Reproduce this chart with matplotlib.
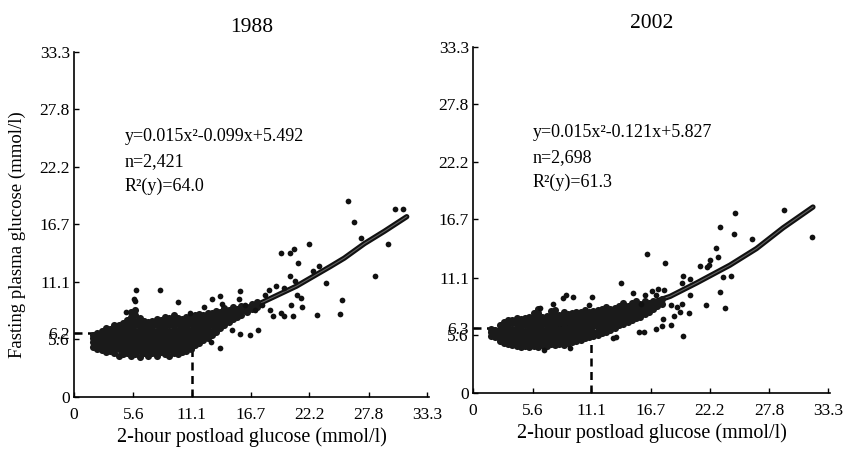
import matplotlib
matplotlib.use('Agg')
import matplotlib.pyplot as plt

plt.rcParams['font.family'] = ['Liberation Serif', 'DejaVu Serif']

# ---------------- data (mmol/l) ----------------
xticks = [0, 5.6, 11.1, 16.7, 22.2, 27.8, 33.3]
yticks88 = [0, 5.6, 6.2, 11.1, 16.7, 22.2, 27.8, 33.3]
yticks02 = [0, 5.6, 6.3, 11.1, 16.7, 22.2, 27.8, 33.3]

# dense cloud, 1988: x column -> fasting values
blob88 = {
    1.8: [4.8, 5.3, 5.7, 6.0],
    2.2: [4.6, 5.1, 5.4, 5.9, 6.2],
    2.6: [4.5, 4.8, 5.3, 5.7, 6.0, 6.4],
    3.0: [4.3, 4.8, 5.2, 5.5, 6.0, 6.3, 6.7],
    3.4: [4.4, 4.7, 5.0, 5.5, 5.9, 6.2, 6.6],
    3.8: [4.2, 4.5, 5.0, 5.4, 5.7, 6.2, 6.5, 6.9],
    4.2: [4.0, 4.6, 4.9, 5.3, 5.8, 6.1, 6.6, 6.9],
    4.6: [4.1, 4.4, 4.9, 5.2, 5.6, 6.0, 6.5, 6.8, 7.1],
    5.0: [4.2, 4.6, 5.1, 5.4, 5.7, 6.2, 6.6, 6.9, 7.4],
    5.4: [4.0, 4.5, 4.8, 5.3, 5.6, 6.0, 6.3, 6.8, 7.2, 7.7, 8.2],
    5.8: [4.1, 4.4, 4.9, 5.2, 5.7, 6.1, 6.4, 6.9, 7.3, 7.9, 8.4],
    6.2: [3.9, 4.4, 4.8, 5.3, 5.6, 6.0, 6.5, 6.8, 7.2, 7.6],
    6.6: [4.2, 4.5, 5.0, 5.4, 5.9, 6.2, 6.7, 7.0, 7.3],
    7.0: [4.0, 4.4, 4.9, 5.2, 5.6, 6.1, 6.4, 6.8, 7.2],
    7.4: [4.2, 4.5, 4.9, 5.4, 5.7, 6.1, 6.6, 6.9, 7.3],
    7.8: [4.0, 4.4, 4.7, 5.2, 5.6, 6.0, 6.4, 6.9, 7.2, 7.5],
    8.2: [4.3, 4.6, 5.0, 5.5, 5.8, 6.2, 6.7, 7.0, 7.4],
    8.6: [4.1, 4.5, 5.0, 5.3, 5.7, 6.2, 6.5, 6.9, 7.3, 7.7],
    9.0: [4.0, 4.5, 4.8, 5.2, 5.7, 6.0, 6.4, 6.9, 7.2, 7.6],
    9.4: [4.2, 4.6, 5.1, 5.4, 5.8, 6.3, 6.6, 7.0, 7.5, 7.9],
    9.8: [4.1, 4.4, 4.9, 5.3, 5.8, 6.1, 6.5, 7.0, 7.3, 7.6],
    10.2: [4.3, 4.8, 5.1, 5.5, 6.0, 6.3, 6.7, 7.1, 7.5],
    10.6: [4.4, 4.8, 5.3, 5.6, 6.0, 6.5, 6.8, 7.2, 7.7],
    11.0: [4.6, 4.9, 5.3, 5.8, 6.1, 6.5, 7.0, 7.3, 7.8],
    11.4: [5.0, 5.5, 5.8, 6.2, 6.7, 7.0, 7.4, 7.9],
    11.8: [5.2, 5.6, 6.1, 6.4, 6.8, 7.3, 7.6, 8.0],
    12.2: [5.5, 5.8, 6.2, 6.7, 7.0, 7.4, 7.9],
    12.6: [5.7, 6.2, 6.5, 6.9, 7.4, 7.7, 8.1],
    13.0: [6.0, 6.4, 6.9, 7.2, 7.6, 8.1],
    13.4: [6.3, 6.8, 7.1, 7.5, 8.0, 8.3],
    13.8: [6.7, 7.0, 7.5, 7.8, 8.2],
    14.2: [6.9, 7.4, 7.7, 8.1, 8.6],
    14.6: [7.2, 7.6, 8.1, 8.4],
    15.0: [7.5, 7.8, 8.3, 8.7],
    15.4: [7.7, 8.1, 8.5],
    15.8: [7.9, 8.4, 8.8],
    16.3: [8.2, 8.7],
    16.8: [8.5, 9.0],
    17.3: [8.7, 9.2],
}
# scattered points, 1988
spread88 = [(5.85, 10.3), (8.1, 10.3), (5.7, 9.5), (5.8, 9.3), (9.8, 9.2),
            (4.9, 8.2), (13.0, 9.5), (13.8, 9.7), (14.0, 9.0), (12.3, 8.7),
            (10.9, 8.1), (15.7, 10.2), (15.6, 9.5), (16.1, 8.9), (13.8, 4.7),
            (14.9, 6.5), (15.7, 6.1), (12.9, 5.3), (16.6, 6.0), (17.4, 6.5),
            (17.1, 8.4), (17.7, 8.9), (18.0, 9.8), (18.4, 10.3), (19.1, 10.7),
            (19.8, 10.5), (18.5, 8.4), (18.8, 7.8), (19.5, 8.1), (19.85, 7.8),
            (20.7, 7.8), (20.5, 8.9), (21.5, 8.7), (21.0, 9.85), (21.4, 9.6),
            (20.4, 11.7), (20.9, 11.2), (19.5, 13.9), (20.4, 13.9), (20.8, 14.3),
            (21.1, 12.9), (22.2, 14.8), (22.6, 12.2), (23.1, 12.6), (23.8, 11.0),
            (22.9, 7.9), (25.1, 8.0), (25.3, 9.4), (25.9, 18.9), (26.4, 16.9),
            (27.1, 15.3), (28.4, 11.7), (29.6, 14.8), (30.3, 18.1), (31.0, 18.1)]
curve88_x = [2, 5, 8, 11, 13, 14.7, 17.9, 21.0, 24.2, 25.5, 27.4, 29.3, 31.4]
curve88_y = [5.35, 5.4, 5.8, 6.4, 7.0, 7.6, 9.2, 10.7, 12.6, 13.4, 14.8, 16.0, 17.4]
cut88 = (11.1, 6.2)

# dense cloud, 2002
blob02 = {
    1.7: [5.5, 5.9, 6.2],
    2.1: [5.4, 5.8, 6.1],
    2.5: [5.0, 5.3, 5.7, 6.1, 6.5],
    2.9: [4.8, 5.2, 5.6, 6.0, 6.3, 6.8],
    3.3: [4.7, 5.1, 5.4, 5.9, 6.2, 6.6, 7.0],
    3.7: [4.6, 5.0, 5.5, 5.8, 6.2, 6.7, 7.0],
    4.1: [4.5, 4.9, 5.3, 5.7, 6.1, 6.5, 6.9, 7.2],
    4.5: [4.4, 4.8, 5.3, 5.6, 6.0, 6.4, 6.9, 7.1],
    4.9: [4.5, 4.8, 5.2, 5.7, 6.0, 6.5, 6.8, 7.2],
    5.3: [4.4, 4.9, 5.2, 5.6, 6.1, 6.4, 6.8, 7.3],
    5.7: [4.5, 4.8, 5.3, 5.7, 6.0, 6.4, 6.9, 7.2, 7.7],
    6.1: [4.4, 4.9, 5.2, 5.6, 6.1, 6.5, 6.8, 7.3, 7.7, 8.1],
    6.5: [4.6, 4.9, 5.4, 5.7, 6.1, 6.6, 6.9, 7.3],
    6.9: [4.5, 5.0, 5.3, 5.8, 6.2, 6.5, 7.0, 7.4],
    7.3: [4.7, 5.0, 5.4, 5.9, 6.2, 6.6, 7.1, 7.4, 7.9],
    7.7: [4.6, 5.1, 5.5, 5.8, 6.3, 6.7, 7.0, 7.5, 8.0],
    8.1: [4.7, 5.0, 5.5, 5.9, 6.2, 6.7, 7.1, 7.5],
    8.5: [4.6, 5.1, 5.4, 5.8, 6.3, 6.6, 7.0, 7.5, 7.8],
    8.9: [4.8, 5.1, 5.6, 6.0, 6.3, 6.8, 7.2, 7.6],
    9.3: [4.9, 5.3, 5.6, 6.1, 6.5, 6.8, 7.3, 7.7],
    9.7: [5.0, 5.4, 5.8, 6.2, 6.5, 7.0, 7.3, 7.8],
    10.1: [5.1, 5.5, 5.9, 6.3, 6.7, 7.1, 7.5, 7.8],
    10.5: [5.3, 5.6, 6.1, 6.4, 6.8, 7.3, 7.6, 8.0],
    10.9: [5.4, 5.8, 6.2, 6.6, 7.0, 7.3, 7.8],
    11.3: [5.5, 5.9, 6.4, 6.7, 7.1, 7.5, 7.9],
    11.7: [5.6, 6.0, 6.4, 6.9, 7.2, 7.6, 8.0],
    12.1: [5.8, 6.2, 6.6, 7.0, 7.4, 7.8, 8.1],
    12.5: [5.9, 6.4, 6.8, 7.1, 7.5, 8.0, 8.3],
    12.9: [6.1, 6.5, 6.9, 7.3, 7.7, 8.1],
    13.3: [6.3, 6.7, 7.0, 7.5, 7.8, 8.2],
    13.7: [6.5, 6.8, 7.2, 7.6, 8.0, 8.4],
    14.1: [6.6, 7.0, 7.4, 7.8, 8.2, 8.7],
    14.5: [6.8, 7.2, 7.6, 8.0, 8.4],
    14.9: [7.0, 7.4, 7.8, 8.2, 8.7],
    15.3: [7.2, 7.6, 8.0, 8.5, 8.9],
    15.7: [7.3, 7.8, 8.2, 8.6],
    16.1: [7.6, 8.0, 8.5, 8.9],
    16.5: [7.8, 8.3, 8.7],
    16.9: [8.1, 8.5, 8.9],
    17.3: [8.4, 8.8],
    17.7: [8.6, 9.0],
}
spread02 = [(8.75, 9.4), (9.4, 9.2), (8.4, 9.1), (11.2, 9.2), (10.9, 8.5),
            (6.25, 8.2), (7.5, 8.6), (13.85, 10.6), (15.0, 9.6), (15.8, 8.6),
            (9.1, 4.3), (6.7, 4.1), (13.4, 5.4), (13.1, 5.25), (15.6, 5.9),
            (16.0, 5.9), (17.2, 6.2), (17.7, 6.4), (18.6, 6.5), (18.9, 7.4),
            (17.85, 7.1), (20.3, 7.7), (19.4, 7.8), (19.7, 5.5), (16.1, 9.45),
            (16.8, 9.8), (17.4, 10.0), (17.9, 9.9), (17.2, 9.45), (18.6, 8.5),
            (19.1, 8.3), (19.6, 8.6), (16.3, 13.4), (18.0, 12.5), (19.7, 11.3),
            (20.4, 11.0), (19.6, 10.6), (20.4, 9.4), (21.9, 8.5), (23.6, 8.2),
            (23.2, 9.7), (23.5, 11.2), (24.2, 11.3), (21.3, 12.2), (22.0, 12.1),
            (22.1, 12.3), (22.2, 12.8), (23.0, 13.1), (22.8, 14.0), (23.2, 16.0),
            (24.5, 15.3), (24.6, 17.3), (26.2, 14.8), (29.2, 17.6), (31.8, 15.0)]
curve02_x = [2, 5, 8, 11, 13, 15, 16.5, 18.5, 21.0, 24.1, 26.6, 29.1, 31.9]
curve02_y = [5.7, 5.8, 6.2, 6.9, 7.5, 8.1, 8.6, 9.3, 10.6, 12.3, 13.9, 15.9, 17.9]
cut02 = (11.1, 6.3)

notes88 = ['y=0.015x²-0.099x+5.492', 'n=2,421', 'R²(y)=64.0']
notes02 = ['y=0.015x²-0.121x+5.827', 'n=2,698', 'R²(y)=61.3']


def draw_panel(ax, title, blob, spread, cx, cy, cut, yticks, notes, note_xy):
    bx = [x for x, ys in blob.items() for _ in ys]
    by = [y for x, ys in blob.items() for y in ys]
    sx = [p[0] for p in spread]
    sy = [p[1] for p in spread]

    # dashed cut-off lines
    ax.plot([0, cut[0]], [cut[1], cut[1]], color='black', lw=1.8,
            linestyle=(0, (3.2, 2.2)), zorder=1, clip_on=False)
    ax.plot([cut[0], cut[0]], [0, cut[1]], color='black', lw=1.8,
            linestyle=(0, (3.2, 2.2)), zorder=1)

    # fitted curve
    ax.plot(cx, cy, color='#111111', lw=3.8, solid_capstyle='round', zorder=2)
    ax.plot(cx, cy, color='#606060', lw=0.8, zorder=2.5)

    ax.scatter(bx, by, s=26, color='#1a1a1a', linewidths=0, zorder=3)
    ax.scatter(sx, sy, s=17, color='#111111', linewidths=0, zorder=3)

    ax.set_xlim(0, 33.5)
    ax.set_ylim(0, 33.3)
    ax.set_xticks(xticks)
    ax.set_xticklabels(['%g' % v for v in xticks])
    ax.set_yticks(yticks)
    ax.set_yticklabels(['%g' % v for v in yticks])
    ax.tick_params(direction='in', length=3.5, width=1.0, labelsize=12.5)
    ax.tick_params(axis='x', pad=7)
    ax.tick_params(axis='y', pad=3)
    for side in ['top', 'right']:
        ax.spines[side].set_visible(False)
    for side in ['left', 'bottom']:
        ax.spines[side].set_linewidth(1.2)

    ax.set_title(title, fontsize=15.5, pad=14)
    ax.set_xlabel('2-hour postload glucose (mmol/l)', fontsize=14.5)
    ax.xaxis.set_label_coords(0.5, -0.115)
    ax.xaxis.label.set_va('center')

    for i, t in enumerate(notes):
        ax.text(note_xy[0], note_xy[1] - 2.4 * i, t, fontsize=13,
                va='center', ha='left')


fig = plt.figure(figsize=(8.43, 4.54), dpi=100)
ax1 = fig.add_axes([0.0878, 0.1256, 0.4211, 0.760])
ax2 = fig.add_axes([0.5611, 0.1344, 0.4235, 0.762])

draw_panel(ax1, '1988', blob88, spread88, curve88_x, curve88_y, cut88,
           yticks88, notes88, (4.8, 25.1))
draw_panel(ax2, '2002', blob02, spread02, curve02_x, curve02_y, cut02,
           yticks02, notes02, (5.6, 25.1))

ax1.set_ylabel('Fasting plasma glucose (mmol/l)', fontsize=13.5)
ax1.yaxis.set_label_coords(-0.16, 0.47)
ax1.yaxis.label.set_va('center')

fig.savefig('out.png', dpi=100)
